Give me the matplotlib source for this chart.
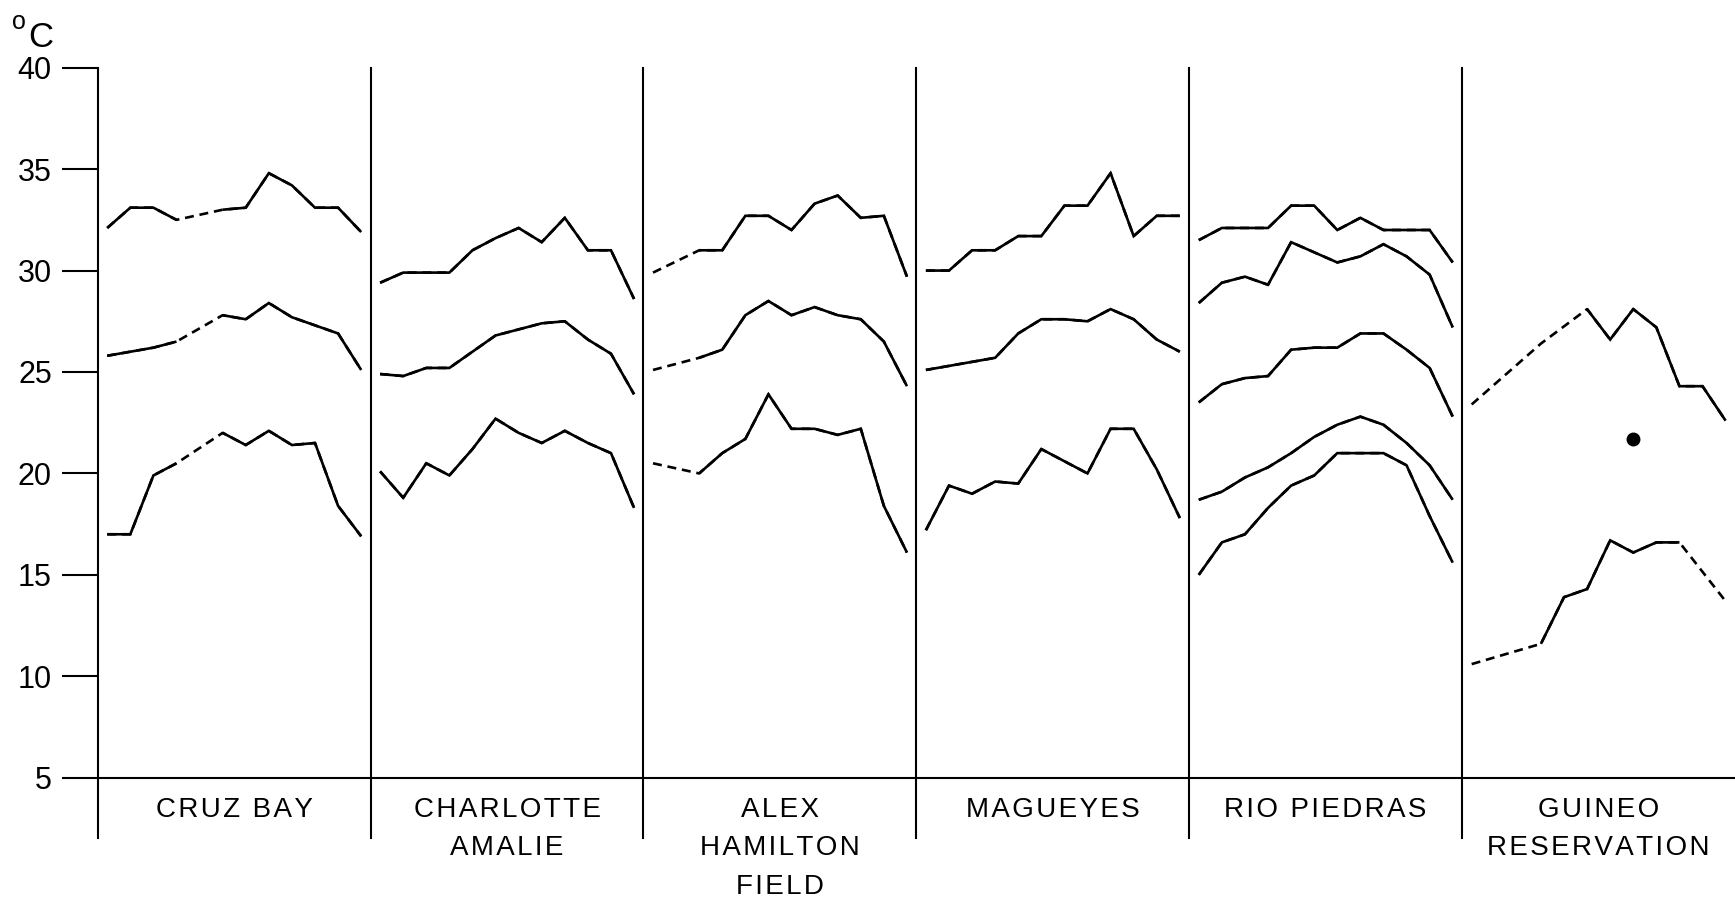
import numpy as np
from matplotlib import pyplot as plt

plt.rcParams['font.family'] = ['Liberation Sans', 'DejaVu Sans']

nan = np.nan

# monthly mean temperatures (deg C), jan..dec; nan = month without record
months = np.arange(12)

cruz_bay = [
    [32.1, 33.1, 33.1, 32.5, nan, 33.0, 33.1, 34.8, 34.2, 33.1, 33.1, 31.9],
    [25.8, 26.0, 26.2, 26.5, nan, 27.8, 27.6, 28.4, 27.7, 27.3, 26.9, 25.1],
    [17.0, 17.0, 19.9, 20.5, nan, 22.0, 21.4, 22.1, 21.4, 21.5, 18.4, 16.9],
]
charlotte_amalie = [
    [29.4, 29.9, 29.9, 29.9, 31.0, 31.6, 32.1, 31.4, 32.6, 31.0, 31.0, 28.6],
    [24.9, 24.8, 25.2, 25.2, 26.0, 26.8, 27.1, 27.4, 27.5, 26.6, 25.9, 23.9],
    [20.1, 18.8, 20.5, 19.9, 21.2, 22.7, 22.0, 21.5, 22.1, 21.5, 21.0, 18.3],
]
alex_hamilton = [
    [29.9, nan, 31.0, 31.0, 32.7, 32.7, 32.0, 33.3, 33.7, 32.6, 32.7, 29.7],
    [25.1, nan, 25.7, 26.1, 27.8, 28.5, 27.8, 28.2, 27.8, 27.6, 26.5, 24.3],
    [20.5, nan, 20.0, 21.0, 21.7, 23.9, 22.2, 22.2, 21.9, 22.2, 18.4, 16.1],
]
magueyes = [
    [30.0, 30.0, 31.0, 31.0, 31.7, 31.7, 33.2, 33.2, 34.8, 31.7, 32.7, 32.7],
    [25.1, 25.3, 25.5, 25.7, 26.9, 27.6, 27.6, 27.5, 28.1, 27.6, 26.6, 26.0],
    [17.2, 19.4, 19.0, 19.6, 19.5, 21.2, 20.6, 20.0, 22.2, 22.2, 20.2, 17.8],
]
rio_piedras = [
    [31.5, 32.1, 32.1, 32.1, 33.2, 33.2, 32.0, 32.6, 32.0, 32.0, 32.0, 30.4],
    [28.4, 29.4, 29.7, 29.3, 31.4, 30.9, 30.4, 30.7, 31.3, 30.7, 29.8, 27.2],
    [23.5, 24.4, 24.7, 24.8, 26.1, 26.2, 26.2, 26.9, 26.9, 26.1, 25.2, 22.8],
    [18.7, 19.1, 19.8, 20.3, 21.0, 21.8, 22.4, 22.8, 22.4, 21.5, 20.4, 18.7],
    [15.0, 16.6, 17.0, 18.3, 19.4, 19.9, 21.0, 21.0, 21.0, 20.4, 17.9, 15.6],
]
guineo = [
    [23.4, nan, nan, 26.4, nan, 28.1, 26.6, 28.1, 27.2, 24.3, 24.3, 22.6],
    [10.6, nan, nan, 11.6, 13.9, 14.3, 16.7, 16.1, 16.6, 16.6, nan, 13.7],
]
# single reading at guineo (month index, temperature)
guineo_month = 7
guineo_temp = 21.7

stations = [cruz_bay, charlotte_amalie, alex_hamilton, magueyes, rio_piedras, guineo]
names = ['CRUZ BAY', 'CHARLOTTE\nAMALIE', 'ALEX\nHAMILTON\nFIELD',
         'MAGUEYES', 'RIO PIEDRAS', 'GUINEO\nRESERVATION']

fig = plt.figure(figsize=(17.35, 8.97), dpi=100)
ax = fig.add_axes([0.0563, 0.1330, 0.9437, 0.7915])
ax.set_xlim(0, 6)
ax.set_ylim(5, 40)

lw = 1.9

def month_x(panel):
    # spread the 12 months across one panel
    return panel + 0.035 + months * 0.0846

def spaced(s):
    # loosen the letter spacing with hair spaces
    return '\u200a'.join(s)

for p, series in enumerate(stations):
    x = month_x(p)
    for s in series:
        y = np.array(s, dtype=float)
        ok = ~np.isnan(y)
        # dashed line bridges the gaps, solid line only where months are consecutive
        ax.plot(x[ok], y[ok], color='black', lw=lw, dashes=(3.4, 2.2),
                solid_joinstyle='miter', dash_capstyle='butt')
        ax.plot(x, y, color='black', lw=lw, solid_joinstyle='miter',
                solid_capstyle='butt')

ax.plot(month_x(5)[guineo_month], guineo_temp, 'o', color='black', markersize=9)

# panel dividers run from the top down past the baseline
for p in range(6):
    ax.plot([p, p], [2.05, 40], color='black', lw=1.5, clip_on=False)

# station names under each panel
for p, name in enumerate(names):
    for k, line in enumerate(name.split('\n')):
        ax.text(p + 0.5, 3.42 - k * 1.9, spaced(line), ha='center', va='center',
                fontsize=20, clip_on=False)

for side in ['top', 'right', 'left']:
    ax.spines[side].set_visible(False)
ax.spines['bottom'].set_linewidth(1.5)

ax.set_xticks([])
ax.set_yticks(range(5, 41, 5))
ax.tick_params(axis='y', direction='out', length=26, width=1.5, labelsize=22, pad=7)

fig.text(0.007, 0.968, 'o', fontsize=18, ha='left', va='baseline')
fig.text(0.0165, 0.948, 'C', fontsize=25, ha='left', va='baseline')

plt.savefig('out.png', dpi=100)
